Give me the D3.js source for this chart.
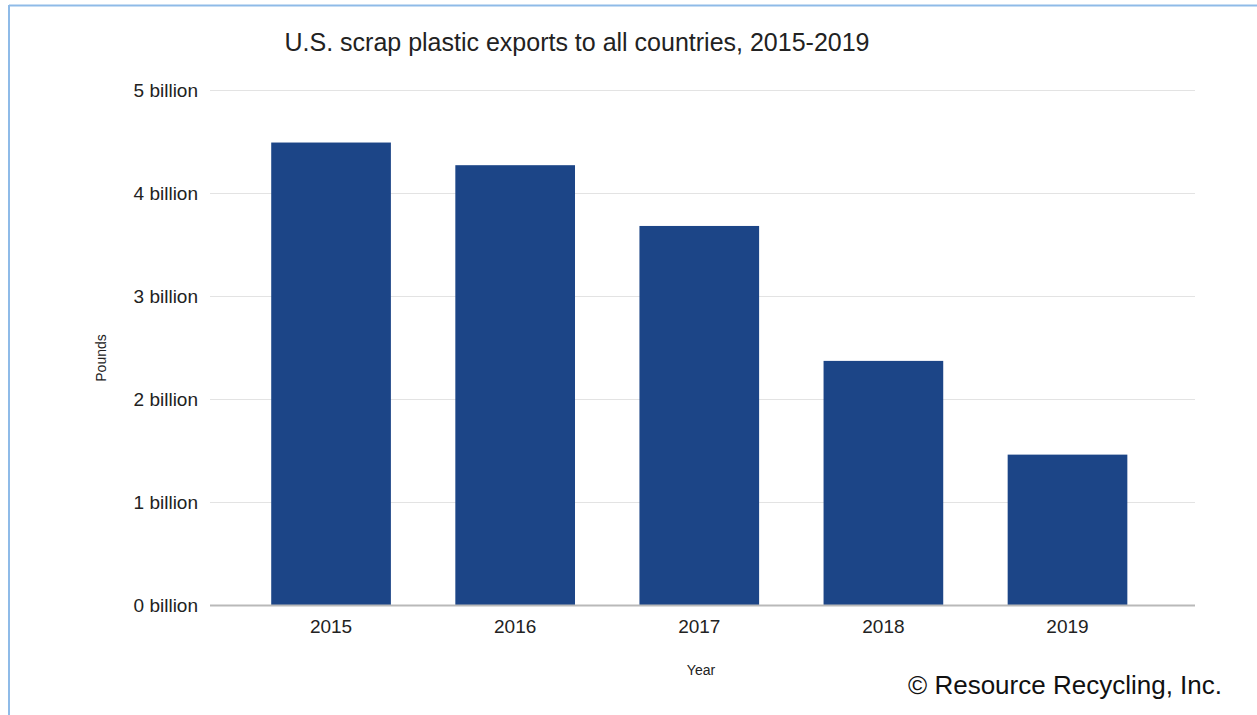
<!DOCTYPE html>
<html lang="en">
  <head>
    <meta charset="UTF-8">
    <title>U.S. scrap plastic exports</title>
    <style>
      body { margin: 0; background: #fff; }
      svg { display: block; font-family: "Liberation Sans", Arial, sans-serif; }
    </style>
    <script src="https://d3js.org/d3.v7.min.js"></script>
  </head>
  <body>
    <script>
      var years = ["2015", "2016", "2017", "2018", "2019"];
      var pounds = [4.49, 4.27, 3.68, 2.37, 1.46]; // billions
      var yTicks = [0, 1, 2, 3, 4, 5];

      var width = 1257, height = 715;
      var plotLeft = 210, plotRight = 1195, plotTop = 90, plotBottom = 605;

      var svg = d3.select("body").append("svg")
        .attr("width", width)
        .attr("height", height);

      // frame
      svg.append("line").attr("x1", 9).attr("x2", width).attr("y1", 5.5).attr("y2", 5.5)
        .attr("stroke", "#8fbbe8").attr("stroke-width", 2);
      svg.append("line").attr("x1", 9).attr("x2", 9).attr("y1", 5).attr("y2", height)
        .attr("stroke", "#8fbbe8").attr("stroke-width", 2);

      var x = d3.scaleBand().domain(years).range([plotLeft, plotRight])
        .paddingInner(0.35).paddingOuter(0.35).align(0.475);
      var y = d3.scaleLinear().domain([0, 5]).range([plotBottom, plotTop]);

      // gridlines
      svg.append("g").selectAll("line").data(yTicks.filter(function (d) { return d > 0; }))
        .enter().append("line")
        .attr("x1", plotLeft).attr("x2", plotRight)
        .attr("y1", function (d) { return y(d) + 0.5; })
        .attr("y2", function (d) { return y(d) + 0.5; })
        .attr("stroke", "#e3e3e3");

      // y axis labels
      var yAxis = d3.axisLeft(y).tickValues(yTicks).tickSize(0).tickPadding(12)
        .tickFormat(function (d) { return d + " billion"; });
      var gy = svg.append("g").attr("transform", "translate(" + plotLeft + ",0)").call(yAxis);
      gy.select(".domain").remove();
      gy.selectAll("text").attr("font-size", 19).attr("fill", "#222")
        .attr("font-family", "Liberation Sans, Arial, sans-serif");

      // bars
      svg.append("g").selectAll("rect").data(pounds).enter().append("rect")
        .attr("x", function (d, i) { return x(years[i]); })
        .attr("y", function (d) { return y(d); })
        .attr("width", x.bandwidth())
        .attr("height", function (d) { return y(0) - y(d); })
        .attr("fill", "#1c4587");

      // baseline
      svg.append("line").attr("x1", plotLeft).attr("x2", plotRight)
        .attr("y1", plotBottom + 0.5).attr("y2", plotBottom + 0.5)
        .attr("stroke", "#b9b9b9").attr("stroke-width", 2);

      // x axis labels
      var xAxis = d3.axisBottom(x).tickSize(0).tickPadding(15);
      var gx = svg.append("g").attr("transform", "translate(0," + plotBottom + ")").call(xAxis);
      gx.select(".domain").remove();
      gx.selectAll("text").attr("font-size", 19).attr("fill", "#222")
        .attr("font-family", "Liberation Sans, Arial, sans-serif");

      // titles
      svg.append("text").attr("x", 577).attr("y", 51).attr("text-anchor", "middle")
        .attr("font-size", 25).attr("fill", "#222")
        .text("U.S. scrap plastic exports to all countries, 2015-2019");

      svg.append("text").attr("x", 701).attr("y", 675).attr("text-anchor", "middle")
        .attr("font-size", 14).attr("fill", "#222").text("Year");

      svg.append("text")
        .attr("transform", "translate(106,358) rotate(-90)")
        .attr("text-anchor", "middle")
        .attr("font-size", 14).attr("fill", "#222").text("Pounds");

      svg.append("text").attr("x", 1222).attr("y", 694).attr("text-anchor", "end")
        .attr("font-size", 26).attr("fill", "#111")
        .text("\u00a9 Resource Recycling, Inc.");
    </script>
  </body>
</html>
